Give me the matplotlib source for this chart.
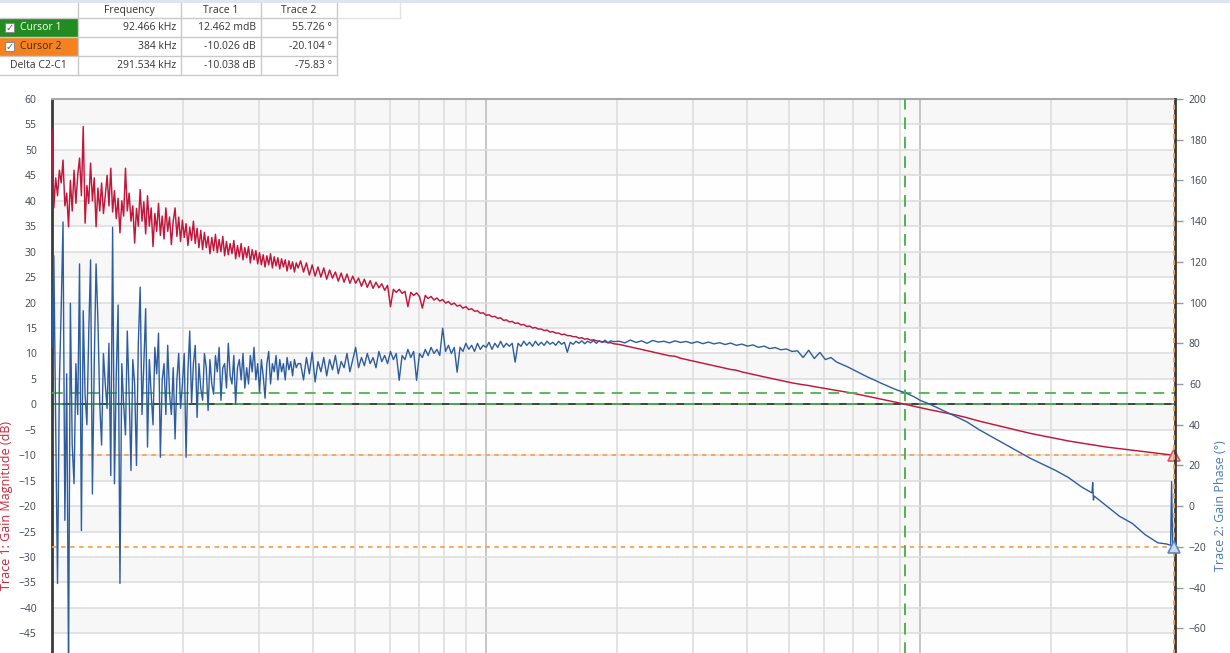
import numpy as np
import matplotlib
matplotlib.use('Agg')
import matplotlib.pyplot as plt
from matplotlib.patches import Rectangle

plt.rcParams['font.family'] = ['Open Sans', 'DejaVu Sans']

# ---------------- data (frequency in kHz) ----------------
freq_lo = [1.000, 1.0098, 1.0197, 1.0297, 1.0398, 1.0500, 1.0602, 1.0706, 1.0811, 1.0917,
           1.1024, 1.1132, 1.1241, 1.1351, 1.1462, 1.1574, 1.1688, 1.1802, 1.1918, 1.2034,
           1.2152, 1.2271, 1.2391, 1.2513, 1.2635, 1.2759, 1.2884, 1.3010, 1.3137, 1.3266,
           1.3396, 1.3527, 1.3659, 1.3793, 1.3928, 1.4065, 1.4202, 1.4341, 1.4482, 1.4624,
           1.4767, 1.4911, 1.5057, 1.5205, 1.5353, 1.5504, 1.5656, 1.5809, 1.5964, 1.6120,
           1.6278, 1.6437, 1.6598, 1.6761, 1.6925, 1.7090, 1.7258, 1.7427, 1.7597, 1.7770,
           1.7944, 1.8119, 1.8297, 1.8476, 1.8657, 1.8839, 1.9024, 1.9210, 1.9398, 1.9588,
           1.9780, 1.9973, 2.0169, 2.0366, 2.0566, 2.0767, 2.0970, 2.1176, 2.1383, 2.1592,
           2.1804, 2.2017, 2.2233, 2.2450, 2.2670, 2.2892, 2.3116, 2.3343, 2.3571, 2.3802,
           2.4035, 2.4270, 2.4508, 2.4748, 2.4990, 2.5235, 2.5482, 2.5732, 2.5984, 2.6238,
           2.6495, 2.6754, 2.7016, 2.7281, 2.7548, 2.7818, 2.8090, 2.8365, 2.8643, 2.8923,
           2.9207, 2.9493, 2.9781, 3.0073, 3.0368, 3.0665, 3.0965, 3.1268, 3.1574, 3.1884,
           3.2196, 3.2511, 3.2829, 3.3151, 3.3475, 3.3803, 3.4134, 3.4468, 3.4806, 3.5147,
           3.5491, 3.5838, 3.6189, 3.6544, 3.6901]
mag_lo = [54.0, 38.6, 44.5, 41.0, 46.0, 43.5, 48.0, 39.0, 41.5, 34.9,
          44.0, 38.0, 46.0, 39.5, 45.0, 48.4, 41.0, 54.6, 35.6, 43.0,
          39.5, 47.4, 40.0, 44.5, 34.9, 42.5, 38.0, 43.5, 37.5, 41.0,
          45.0, 39.0, 46.4, 37.8, 42.0, 36.5, 40.5, 33.7, 40.0, 37.0,
          46.4, 38.0, 41.5, 36.0, 39.0, 31.7, 38.5, 35.0, 42.2, 36.0,
          39.8, 33.5, 41.0, 35.0, 38.6, 31.0, 37.5, 34.0, 39.5, 33.2,
          37.0, 32.5, 38.6, 34.0, 36.8, 31.4, 36.0, 38.6, 33.0, 36.8,
          32.0, 36.2, 32.8, 35.5, 31.2, 34.8, 32.2, 36.0, 31.6, 34.6,
          30.8, 34.2, 30.4, 33.8, 30.8, 33.0, 29.6, 32.8, 30.2, 33.4,
          29.8, 32.4, 30.0, 33.0, 29.2, 32.0, 29.4, 31.6, 29.6, 32.2,
          28.6, 31.2, 29.0, 31.6, 28.4, 30.8, 28.8, 31.0, 27.8, 30.4,
          28.4, 30.2, 27.6, 29.8, 27.4, 29.4, 27.0, 29.2, 27.4, 29.6,
          26.8, 29.0, 27.2, 28.8, 26.6, 28.6, 27.0, 28.4, 26.2, 28.2,
          26.6, 28.0, 26.0, 27.8, 26.8]
phase_lo = [78, 123, 40, -38, 60, 97, 139.6, -7, 65, -80,
            99.7, 30, 11, 70, 45, 119, -12, 96, 55, 40,
            85, 121, 6, 70, 119, 91, 50, 30, 75, 60,
            48, 80, 15, 137, 11, 65, 98.8, -38, 70, 50,
            35, 86, 55, 17.5, 72, 60, 20, 80, 107.6, 45,
            70, 97, 29, 72, 55, 40, 78, 65, 85, 24,
            62, 70, 45, 79, 55, 45, 68, 33, 62, 75,
            48, 60, 75, 24, 66, 86, 50, 70, 79, 43.6,
            70, 58, 52, 75, 68, 47, 72, 60, 55, 74,
            66, 78, 52, 68, 70, 58, 80, 64, 60, 74,
            50, 68, 72, 62, 75, 58, 68, 60, 74, 66,
            78, 62, 70, 56, 72, 64, 53, 70, 76, 60,
            70, 66, 74, 62, 72, 66, 70, 62, 73, 67,
            71, 64, 72, 68, 70]

freq_mid = [3.740, 3.798, 3.857, 3.917, 3.977, 4.039, 4.101, 4.165, 4.229, 4.295,
            4.361, 4.429, 4.498, 4.567, 4.638, 4.710, 4.783, 4.857, 4.932, 5.009,
            5.086, 5.165, 5.245, 5.327, 5.409, 5.493, 5.578, 5.665, 5.753, 5.842,
            5.932, 6.024, 6.118, 6.213, 6.309, 6.407, 6.506, 6.607, 6.709, 6.813,
            6.919, 7.026, 7.135, 7.246, 7.358, 7.472, 7.588, 7.706, 7.825, 7.946,
            8.069, 8.194, 8.321, 8.450, 8.581, 8.714, 8.849, 8.987, 9.126, 9.267,
            9.411, 9.557, 9.705, 9.855, 10.008, 10.163, 10.321, 10.481, 10.643, 10.808,
            10.976, 11.146, 11.319, 11.494, 11.672, 11.853, 12.037, 12.223, 12.413, 12.605,
            12.801, 12.999, 13.200, 13.405, 13.613, 13.824, 14.038, 14.256, 14.477, 14.701,
            14.929, 15.160, 15.395, 15.634, 15.876, 16.122, 16.372, 16.626, 16.883, 17.145,
            17.411, 17.681, 17.955, 18.233, 18.515, 18.802, 19.094, 19.390, 19.690]
mag_mid = [28.2, 26.0, 27.8, 25.4, 27.4, 25.2, 27.0, 25.0, 26.8, 24.6,
           26.4, 24.8, 26.0, 24.2, 25.8, 24.0, 25.6, 23.8, 25.2, 23.8,
           24.8, 23.2, 24.6, 23.0, 24.3, 22.8, 24.0, 22.9, 23.7, 22.4,
           23.4, 19.2, 22.6, 22.0, 22.6, 21.8, 22.2, 19.2, 22.0, 21.4,
           21.9, 21.2, 18.9, 21.4, 20.8, 21.2, 20.5, 20.9, 20.3, 20.6,
           19.9, 20.2, 19.6, 19.9, 19.3, 19.5, 18.9, 19.2, 18.6, 18.8,
           18.3, 18.4, 17.9, 18.0, 17.5, 17.6, 17.2, 17.3, 16.9, 17.0,
           16.5, 16.6, 16.2, 16.3, 15.9, 16.0, 15.6, 15.7, 15.3, 15.4,
           15.0, 15.1, 14.8, 14.8, 14.5, 14.6, 14.2, 14.3, 14.0, 14.0,
           13.7, 13.8, 13.5, 13.5, 13.3, 13.3, 13.0, 13.1, 12.8, 12.9,
           12.6, 12.7, 12.5, 12.4, 12.3, 12.3, 12.1, 12.1, 11.9]
phase_mid = [70, 62, 73, 65, 75.6, 61, 71, 66, 73, 64,
             72, 67, 74, 65, 71, 68, 75, 66, 72, 78,
             68, 73, 69, 75, 70, 73, 68, 76, 71, 74,
             70, 76, 72, 75, 61.8, 74, 72, 77, 73, 76,
             61.8, 75, 73, 77, 74, 78, 75, 77, 74, 87.4,
             76, 79, 75, 78, 65.8, 78, 76, 80, 77, 79,
             76, 80, 77, 79, 78, 80.5, 77, 80, 78, 81,
             78, 80, 78.5, 80, 70.7, 80, 78.5, 81, 79, 80.5,
             78.5, 81, 79, 80.5, 79, 81, 79.5, 80.5, 79, 81,
             79.5, 80.5, 75.6, 80.5, 79.5, 81, 80, 81.2, 79.8, 81,
             80.2, 81.3, 80, 81.2, 80.4, 81.5, 80.3, 81.2, 80.8]

freq_hi = [20.28, 20.89, 21.52, 22.16, 22.83, 23.51, 24.22, 24.94, 25.69, 26.46,
           27.26, 28.07, 28.92, 29.78, 30.68, 31.60, 32.55, 33.52, 34.53, 35.56,
           36.63, 37.73, 38.86, 40.03, 41.23, 42.46, 43.74, 45.05, 46.40, 47.79,
           49.23, 50.70, 52.22, 53.79, 55.41, 57.07, 58.78, 60.54, 62.36, 64.23,
           66.16, 68.14, 70.18, 72.29, 74.46, 76.69, 78.99, 81.36, 83.80, 86.32,
           88.91, 92.466, 94.32, 97.15, 100.0]
mag_hi = [11.78, 11.53, 11.28, 11.04, 10.79, 10.54, 10.29, 10.05, 9.80, 9.55,
          9.45, 9.06, 8.81, 8.56, 8.32, 8.08, 7.83, 7.59, 7.35, 7.11,
          6.86, 6.70, 6.38, 6.13, 5.89, 5.65, 5.40, 5.16, 4.92, 4.68,
          4.43, 4.22, 4.03, 3.85, 3.70, 3.48, 3.29, 3.11, 2.92, 2.74,
          2.55, 2.37, 2.18, 1.95, 1.72, 1.49, 1.25, 1.02, 0.79, 0.56,
          0.33, 0.0125, -0.15, -0.38, -0.61]
phase_hi = [81.0, 80.2, 81.6, 80.4, 81.2, 80.0, 81.4, 80.6, 81.0, 80.2,
            81.2, 80.4, 80.9, 80.0, 80.8, 79.8, 80.6, 79.7, 80.3, 79.4,
            80.1, 79.0, 79.6, 78.6, 79.2, 78.0, 78.6, 77.4, 77.9, 76.8,
            77.2, 76.0, 76.3, 73.0, 76.6, 72.5, 75.5, 72.0, 73.0, 70.8,
            69.6, 68.4, 67.0, 65.6, 64.2, 62.9, 61.7, 60.4, 59.2, 58.0,
            56.9, 55.726, 54.9, 53.6, 52.0]

freq_top = [104.5, 111.8, 119.6, 128.0, 137.0, 146.6, 156.8, 167.8, 179.5, 192.1,
            205.5, 220.0, 235.4, 249.0, 250.0, 251.0, 251.8, 269.5, 288.3, 308.5,
            330.1, 353.2, 370.0, 378.0, 380.0, 381.0, 382.0, 384.0]
mag_top = [-1.0, -1.5, -2.0, -2.6, -3.3, -3.9, -4.5, -5.1, -5.7, -6.2,
           -6.7, -7.2, -7.6, -7.95, -7.95, -8.0, -8.0, -8.4, -8.7, -9.0,
           -9.3, -9.6, -9.8, -9.9, -9.95, -10.0, -10.0, -10.026]
phase_top = [50.4, 47.5, 44.5, 41.5, 37.5, 34, 30.5, 27, 23.5, 20.5,
             17.5, 14, 9.5, 6.5, 11.6, 3.0, 5.0, 0, -5, -8.5,
             -14, -18, -18.6, -19.2, 12, -4, -18, -20.104]

cursor_freq = [92.466, 384.0]          # kHz
cursor_mag = [0.012462, -10.026]       # dB
cursor_phase = [55.726, -20.104]       # deg

table_header = ['Frequency', 'Trace 1', 'Trace 2']
table_names = ['Cursor 1', 'Cursor 2', 'Delta C2-C1']
table_freq = ['92.466 kHz', '384 kHz', '291.534 kHz']
table_trace1 = ['12.462 mdB', '-10.026 dB', '-10.038 dB']
table_trace2 = ['55.726 °', '-20.104 °', '-75.83 °']

freq = np.array(freq_lo + freq_mid + freq_hi + freq_top)
mag = np.array(mag_lo + mag_mid + mag_hi + mag_top)
phase = np.array(phase_lo + phase_mid + phase_hi + phase_top)

# ---------------- figure ----------------
W, H = 1230, 653
fig = plt.figure(figsize=(W / 100, H / 100), dpi=100)
fig.patch.set_facecolor('white')


def rect_px(x0, y0, x1, y1):
    return [x0 / W, 1 - y1 / H, (x1 - x0) / W, (y1 - y0) / H]


RED = '#c0173c'
BLUE = '#2d5d9f'
GREEN = '#52b152'
ORANGE = '#f6a350'
TICKC = '#3c4650'

ax = fig.add_axes(rect_px(52, 99, 1175, 709.7))
ax.set_xscale('log')
ax.set_xlim(1.0, 386.9)
ax.set_ylim(-60, 60)
ax.set_facecolor('#fefefe')
for k in range(-12, 12):
    if k % 2 != 0:
        ax.axhspan(5 * k, 5 * k + 5, color='#f7f7f7', lw=0, zorder=0.1)
ax.set_yticks(np.arange(-45, 61, 5))
ax.set_axisbelow(True)
ax.grid(True, which='major', axis='x', color='#c6c6c6', lw=1.4)
ax.grid(True, which='minor', axis='x', color='#dedede', lw=1.2)
ax.grid(True, which='major', axis='y', color='#dedede', lw=1.2)
ax.tick_params(axis='x', which='both', length=0, labelbottom=False)
ax.tick_params(axis='y', length=0, pad=11, labelsize=7.5, labelcolor=TICKC)
for s in ['bottom', 'right']:
    ax.spines[s].set_visible(False)
ax.spines['left'].set_color('#3a3a3a')
ax.spines['left'].set_linewidth(2)
ax.spines['top'].set_color('#a8a8a8')
ax.spines['top'].set_linewidth(1.5)

# magnitude cursor lines
ax.axhline(0, color='#333333', lw=1.3, zorder=2)
ax.axhline(cursor_mag[0], color=GREEN, lw=1.3, ls=(0, (6, 4)), zorder=2.1)
ax.axhline(cursor_mag[1], color=ORANGE, lw=1.3, ls=(0, (2.5, 2.5)), zorder=2.1)
ax.plot(freq, mag, color=RED, lw=1.05, zorder=3)
ax.plot([cursor_freq[1]], [cursor_mag[1]], marker='^', ms=9, mfc='#f6c9c9',
        mec='#e05555', mew=1.2, zorder=4, clip_on=False)

ax2 = ax.twinx()
ax2.set_ylim(-100, 200)
ax2.set_yticks(np.arange(-60, 201, 20))
ax2.tick_params(axis='y', length=6, width=1, color='#999999', pad=4,
                labelsize=7.5, labelcolor=TICKC)
for s in ['bottom', 'left', 'top']:
    ax2.spines[s].set_visible(False)
ax2.spines['right'].set_color('#3a3a3a')
ax2.spines['right'].set_linewidth(2)
ax2.axhline(cursor_phase[0], color=GREEN, lw=1.3, ls=(0, (6, 4)), zorder=2)
ax2.axhline(cursor_phase[1], color=ORANGE, lw=1.3, ls=(0, (2.5, 2.5)), zorder=2)
ax2.plot(freq, phase, color=BLUE, lw=1.0, zorder=3)
ax2.axvline(cursor_freq[0], color=GREEN, lw=1.4, ls=(0, (6, 4)), zorder=4)
ax2.axvline(cursor_freq[1], color=ORANGE, lw=1.4, ls=(0, (2.5, 2.5)), zorder=4)
ax2.plot([cursor_freq[1]], [cursor_phase[1]], marker='^', ms=9, mfc='#cbd9ee',
         mec='#5b86c0', mew=1.2, zorder=5, clip_on=False)

# axis titles
fig.text(7 / W, 1 - 506 / H, 'Trace 1: Gain Magnitude (dB)', rotation=90,
         ha='center', va='center', color='#c8283c', fontsize=9)
fig.text(1220 / W, 1 - 506 / H, 'Trace 2: Gain Phase (°)', rotation=90,
         ha='center', va='center', color='#4a7ab5', fontsize=9)

# ---------------- cursor table ----------------
ov = fig.add_axes([0, 0, 1, 1])
ov.set_xlim(0, W)
ov.set_ylim(H, 0)
ov.axis('off')
ov.add_patch(Rectangle((0, 0), W, 3, color='#dde6f0', lw=0))
cols = [0, 78, 181, 261, 337]
rows = [3, 18, 37, 56, 75]
ov.add_patch(Rectangle((0, rows[1]), cols[1], rows[2] - rows[1], color='#228b22', lw=0))
ov.add_patch(Rectangle((0, rows[2]), cols[1], rows[3] - rows[2], color='#f5821f', lw=0))
gc = '#c9c9c9'
for yv in rows[1:]:
    ov.plot([0, cols[-1]], [yv, yv], color=gc, lw=1)
ov.plot([cols[-1], 400], [rows[1], rows[1]], color='#e2e2e2', lw=1)
for xv in cols[1:]:
    ov.plot([xv, xv], [rows[0], rows[-1]], color=gc, lw=1)
ov.plot([400, 400], [rows[0], rows[1]], color='#e2e2e2', lw=1)
for j, h in enumerate(table_header):
    ov.text((cols[j + 1] + cols[j + 2]) / 2, 10.5, h, ha='center', va='center',
            fontsize=7.5, color='#333333')
name_colors = ['white', '#3a2a1a', '#333333']
for i in range(3):
    yc = (rows[i + 1] + rows[i + 2]) / 2
    if i < 2:
        ov.add_patch(Rectangle((5, yc - 4.5), 9, 9, facecolor='white',
                               edgecolor='#888888', lw=0.8))
        ov.text(9.5, yc + 0.5, '✓', ha='center', va='center', fontsize=7,
                color='#555555', family='DejaVu Sans')
        ov.text(20, yc, table_names[i], ha='left', va='center', fontsize=7.5,
                color=name_colors[i])
    else:
        ov.text(10, yc, table_names[i], ha='left', va='center', fontsize=7.5,
                color=name_colors[i])
    ov.text(cols[2] - 5, yc, table_freq[i], ha='right', va='center', fontsize=7.5, color='#333333')
    ov.text(cols[3] - 5, yc, table_trace1[i], ha='right', va='center', fontsize=7.5, color='#333333')
    ov.text(cols[4] - 5, yc, table_trace2[i], ha='right', va='center', fontsize=7.5, color='#333333')

fig.savefig('out.png', dpi=100, facecolor='white')
